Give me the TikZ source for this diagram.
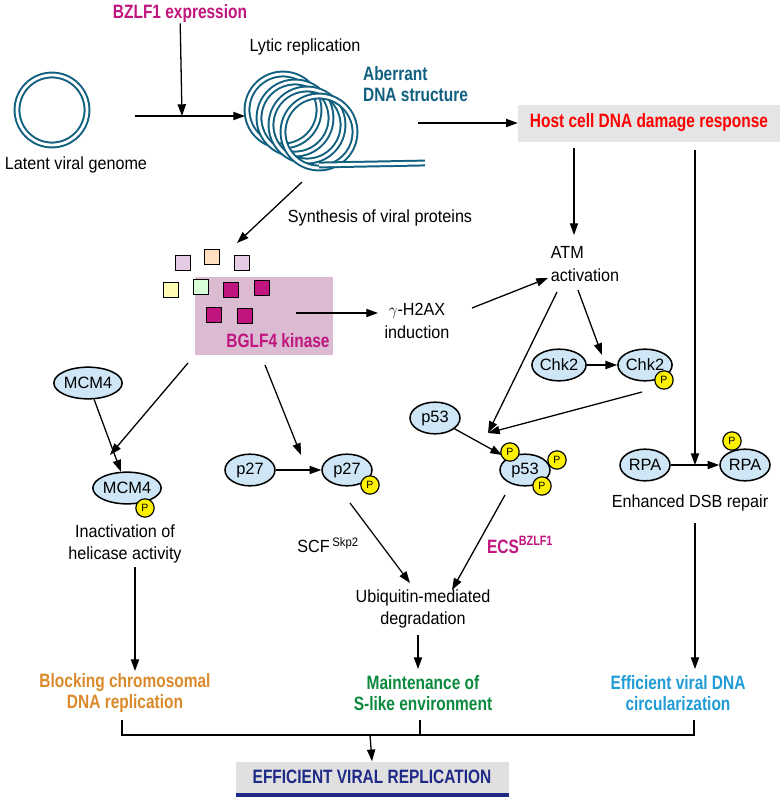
\documentclass[tikz,border=0pt]{standalone}
\usepackage{fontspec}
\setmainfont{Liberation Sans}
\usetikzlibrary{arrows.meta,positioning,shapes.geometric}
\definecolor{zmag}{HTML}{C0157E}
\definecolor{dnablue}{HTML}{11607F}
\definecolor{pinkbox}{HTML}{DABBD2}
\definecolor{protblue}{HTML}{CFE6F6}
\definecolor{orng}{HTML}{DA8A2A}
\definecolor{grn}{HTML}{0B8A3E}
\definecolor{lblue}{HTML}{1F9BD6}
\definecolor{navy}{HTML}{1E2A86}
\tikzset{
  arr/.style={-{Triangle[length=10pt,width=7pt]}, line width=1.1pt},
  ln/.style={line width=1.1pt},
  txt/.style={font=\fontsize{15}{19}\selectfont, align=center, inner sep=1pt, xscale=0.92},
  bold/.style={font=\bfseries\fontsize{16.5}{18}\selectfont, align=center, inner sep=1pt, xscale=0.8},
  prot/.style={ellipse, draw, line width=1.3pt, fill=protblue, minimum width=1.5cm, minimum height=0.95cm, inner sep=0pt, font=\fontsize{14}{15}\selectfont},
  phos/.style={circle, draw, line width=1pt, fill=yellow, minimum size=0.55cm, inner sep=0pt, font=\fontsize{9}{10}\selectfont},
  sq/.style={draw, line width=1.2pt, minimum size=0.45cm, inner sep=0pt},
  dna/.style={dnablue, double=white, double distance=2.4pt, line width=1.7pt}
}
\begin{document}
\begin{tikzpicture}[x=0.03cm, y=-0.03cm]
  \useasboundingbox (0,0) rectangle (782,800);
  % top row
  \node[bold, zmag] (bzlf) at (180,13) {BZLF1 expression};
  \draw[dna] (52,110) circle (35);
  \node[txt] (latent) at (76,165) {Latent viral genome};
  \node[txt] (lytic) at (305,47) {Lytic replication};
  \foreach \cx/\cy in {283/110, 295/118, 307/125, 319/132}
    \draw[dna] (\cx,\cy) circle (36);
  \draw[dna] (319,165) -- (425,163);
  \coordinate (coil) at (302,182);
  \node[bold, dnablue, align=left, anchor=west] (aberr) at (362,84) {Aberrant\\DNA structure};
  \coordinate (lat) at (135,116);
  \coordinate (lyt) at (245,116);
  \coordinate (mid) at (182,116);
  \draw[arr] (lat) -- (lyt);
  \draw[arr] (bzlf) -- (mid);
  \node[fill=black!10, minimum width=262*0.03cm, minimum height=37*0.03cm] (ddrbox) at (649,123) {};
  \node[bold, red] (ddr) at (ddrbox) {Host cell DNA damage response};
  \coordinate (aout) at (418,123);
  \draw[arr] (aout) -- (ddrbox.west);
  % kinase
  \node[txt] (synth) at (380,218) {Synthesis of viral proteins};
  \coordinate (sq0) at (237,243);
  \draw[arr] (coil) -- (sq0);
  \node[fill=pinkbox, minimum width=138*0.03cm, minimum height=78*0.03cm] (kbox) at (264,316) {};
  \foreach \x/\y/\c in {183/263/violet!20, 212/257/orange!25, 242/263/violet!20, 171/290/yellow!30, 201/287/green!15}
    \node[sq, fill=\c] at (\x,\y) {};
  \foreach \x/\y in {231/290, 262/288, 214/315, 245/316}
    \node[sq, fill=zmag] at (\x,\y) {};
  \node[bold, zmag] (bglf) at (278,341) {BGLF4 kinase};
  \node[txt] (h2ax) at (417,321) {$\gamma$-H2AX\\induction};
  \coordinate (kout) at (296,313);
  \coordinate (hin) at (378,313);
  \draw[arr] (kout) -- (hin);
  \node[txt, align=left] (atm) at (585,264) {ATM\\activation};
  \draw[arr] (574,148) -- (574,235);
  \coordinate (hout) at (472,308);
  \coordinate (atmin) at (548,278);
  \draw[arr] (hout) -- (atmin);
  % Chk2 / p53
  \node[prot] (chk) at (559,365) {Chk2};
  \node[prot] (chkp) at (645,365) {Chk2};
  \node[phos] (chkpp) at (664,380) {P};
  \draw[arr] (chk) -- (chkp);
  \draw[arr] (578,290) -- (602,355);
  \node[prot] (p53) at (435,418) {p53};
  \node[prot] (p53p) at (525,470) {p53};
  \node[phos] at (510,452) {P};
  \node[phos] at (557,460) {P};
  \node[phos] at (542,486) {P};
  \coordinate (p53in) at (488,433);
  \draw[arr] (557,292) -- (p53in);
  \draw[arr] (642,392) -- (p53in);
  \draw[arr] (p53) -- (502,455);
  % RPA
  \node[prot] (rpa) at (645,465) {RPA};
  \node[prot] (rpap) at (745,465) {RPA};
  \node[phos] at (732,441) {P};
  \coordinate (rpaj) at (695,465);
  \draw[arr] (rpa) -- (rpap);
  \draw[arr] (695,150) -- (rpaj);
  \node[txt] (dsb) at (690,503) {Enhanced DSB repair};
  % MCM4 / p27
  \node[prot] (mcm) at (88,383) {MCM4};
  \node[prot] (mcmp) at (127,488) {MCM4};
  \node[phos] at (145,508) {P};
  \coordinate (mcmj) at (110,455);
  \draw[arr] (188,363) -- (mcmj);
  \draw[arr] (mcm) -- (mcmp);
  \node[prot] (p27) at (250,470) {p27};
  \node[prot] (p27p) at (347,470) {p27};
  \node[phos] at (370,485) {P};
  \draw[arr] (p27) -- (p27p);
  \draw[arr] (265,365) -- (301,455);
  \node[txt] (inact) at (125,544) {Inactivation of\\helicase activity};
  % degradation
  \node[txt] (ubi) at (423,609) {Ubiquitin-mediated\\degradation};
  \node[txt] (scf) at (328,545) {SCF\,$^{\mathrm{Skp2}}$};
  \node[bold, zmag] (ecs) at (520,545) {ECS$^{\mathbf{BZLF1}}$};
  \draw[arr] (350,503) -- (410,583);
  \draw[arr] (505,495) -- (452,590);
  % outcomes
  \node[bold, orng] (block) at (125,693) {Blocking chromosomal\\DNA replication};
  \node[bold, grn] (maint) at (423,693) {Maintenance of\\S-like environment};
  \node[bold, lblue] (circ) at (678,693) {Efficient viral DNA\\circularization};
  \draw[arr] (135,567) -- (135,671);
  \draw[arr] (418,635) -- (418,669);
  \draw[arr] (695,523) -- (695,669);
  % final
  \draw[ln] (122,720) -- (122,735) -- (694,735) -- (694,720);
  \draw[ln] (420,720) -- (420,735);
  \node[fill=black!12, minimum width=273*0.03cm, minimum height=31*0.03cm] (finbox) at (372,777) {};
  \fill[navy] (236,793) rectangle (509,797);
  \node[bold, navy] (fin) at (finbox) {EFFICIENT VIRAL REPLICATION};
  \draw[arr] (370,735) -- (finbox.north);
\end{tikzpicture}
\end{document}
